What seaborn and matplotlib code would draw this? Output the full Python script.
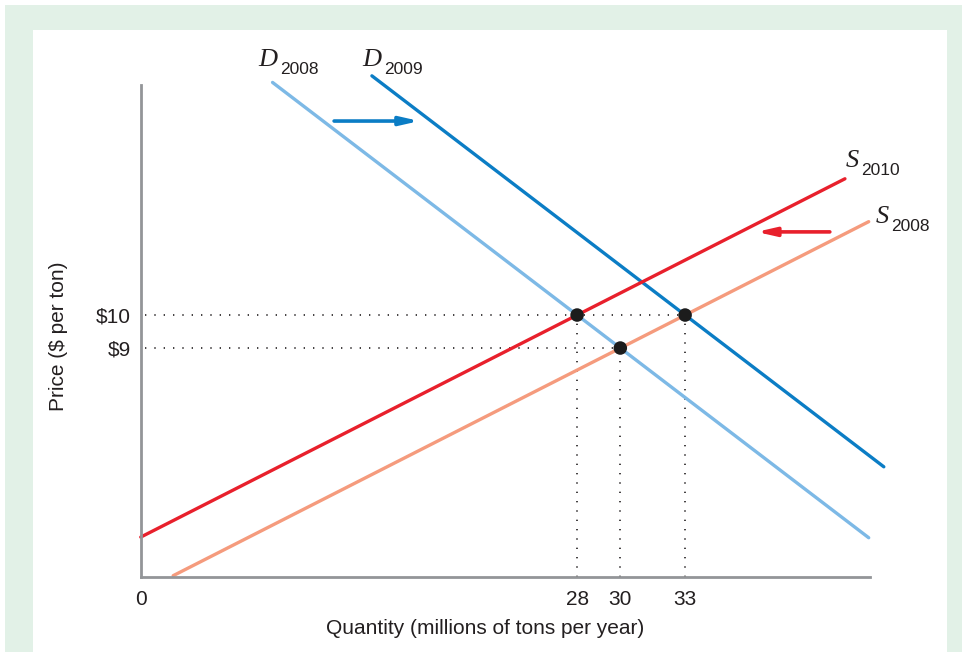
import numpy as np
import pandas as pd
import matplotlib
matplotlib.use('Agg')
import matplotlib.pyplot as plt
from matplotlib.patches import Rectangle
import seaborn as sns

# curve endpoints (quantity, price)
curves = ['D2008', 'D2009', 'S2010', 'S2008']
q_start = [13.9, 18.5, 7.8, 9.3]
q_end = [41.5, 42.2, 40.4, 41.5]
p_start = [17.05, 17.25, 3.27, 2.1]
p_end = [3.25, 5.4, 14.13, 12.83]

# equilibrium points
eq_q = [28, 30, 33]
eq_p = [10, 9, 10]

x_ticks = [28, 30, 33]
y_ticks = [9, 10]
y_tick_labels = ['\\$9', '\\$10']

# axis origin (schematic, labelled 0)
q_min, q_max = 7.81, 41.56
p_min, p_max = 2.06, 17.73
p_axis_top = 16.97

# shift arrows
blue_arrow = [(16.75, 15.88), (20.7, 15.88)]
red_arrow = [(39.7, 12.52), (36.3, 12.52)]

colors = {'D2008': '#7db9e6', 'D2009': '#0b7dc5',
          'S2010': '#e8202c', 'S2008': '#f59b7d'}
text_color = '#231f20'
axis_color = '#939598'

sns.set_style('white')
plt.rcParams['font.family'] = ['Liberation Sans', 'DejaVu Sans']

fig = plt.figure(figsize=(9.67, 6.52), dpi=100)
W, H = 967, 652

# green frame + white panel
fig.patches.append(Rectangle((5 / W, 0), 957 / W, 647 / H, transform=fig.transFigure,
                             facecolor='#e2f1e7', edgecolor='none', zorder=-10))
fig.patches.append(Rectangle((33 / W, 0), 914 / W, 622 / H, transform=fig.transFigure,
                             facecolor='white', edgecolor='none', zorder=-9))

ax = fig.add_axes([141 / W, 1 - 577 / H, 729 / W, 517 / H])
ax.patch.set_alpha(0)

rows = []
for c, qs, qe, ps, pe in zip(curves, q_start, q_end, p_start, p_end):
    rows.append({'curve': c, 'q': qs, 'p': ps})
    rows.append({'curve': c, 'q': qe, 'p': pe})
df = pd.DataFrame(rows)

sns.lineplot(data=df, x='q', y='p', hue='curve', palette=colors, lw=2.4,
             legend=False, ax=ax, sort=False, estimator=None, units='curve')
for line in ax.get_lines():
    line.set_clip_on(False)

# dotted guides
dot_style = dict(color='#231f20', lw=1.2, linestyle=(0, (0.8, 4.8)), zorder=1)
ax.plot([q_min + 0.2, 33], [10, 10], **dot_style)
ax.plot([q_min + 0.2, 30], [9, 9], **dot_style)
for q, p in zip(eq_q, eq_p):
    ax.plot([q, q], [p_min, p], **dot_style)

sns.scatterplot(x=eq_q, y=eq_p, color='#1c1c1c', s=95, edgecolor='none', zorder=5, ax=ax)

# arrows
for (start, end), col in [(blue_arrow, colors['D2009']), (red_arrow, colors['S2010'])]:
    ax.annotate('', xy=end, xytext=start,
                arrowprops=dict(arrowstyle='-|>,head_length=1.1,head_width=0.25',
                                color=col, lw=2.6, shrinkA=0, shrinkB=0))

ax.set_xlim(q_min, q_max)
ax.set_ylim(p_min, p_max)
ax.set_xticks([q_min] + x_ticks)
ax.set_xticklabels(['0'] + [str(t) for t in x_ticks])
ax.set_yticks(y_ticks)
ax.set_yticklabels(y_tick_labels)
ax.tick_params(length=0, labelsize=15, colors=text_color)
ax.tick_params(axis='x', pad=9.5)
ax.tick_params(axis='y', pad=7)
ax.set_xlabel('')
ax.set_ylabel('')

for s in ['top', 'right']:
    ax.spines[s].set_visible(False)
for s in ['left', 'bottom']:
    ax.spines[s].set_color(axis_color)
    ax.spines[s].set_linewidth(2)
ax.spines['left'].set_bounds(p_min, p_axis_top)

# curve labels
serif = dict(family='Liberation Serif', style='italic', size=19, color=text_color)
sans = dict(family='Liberation Sans', size=12.5, color=text_color)
labels = [('D', '2008', 258, 66, 22), ('D', '2009', 362, 66, 22),
          ('S', '2010', 846, 167, 15), ('S', '2008', 876, 223, 15)]
for letter, sub, x, y, dx in labels:
    fig.text(x / W, 1 - y / H, letter, ha='left', va='baseline', **serif)
    fig.text((x + dx) / W, 1 - (y + 8) / H, sub, ha='left', va='baseline', **sans)

fig.text(485 / W, 1 - 629 / H, 'Quantity (millions of tons per year)',
         ha='center', va='center', size=15, color=text_color)
fig.text(58 / W, 1 - 336 / H, 'Price ($ per ton)', rotation=90,
         ha='center', va='center', size=15, color=text_color)

fig.savefig('out.png', dpi=100)
